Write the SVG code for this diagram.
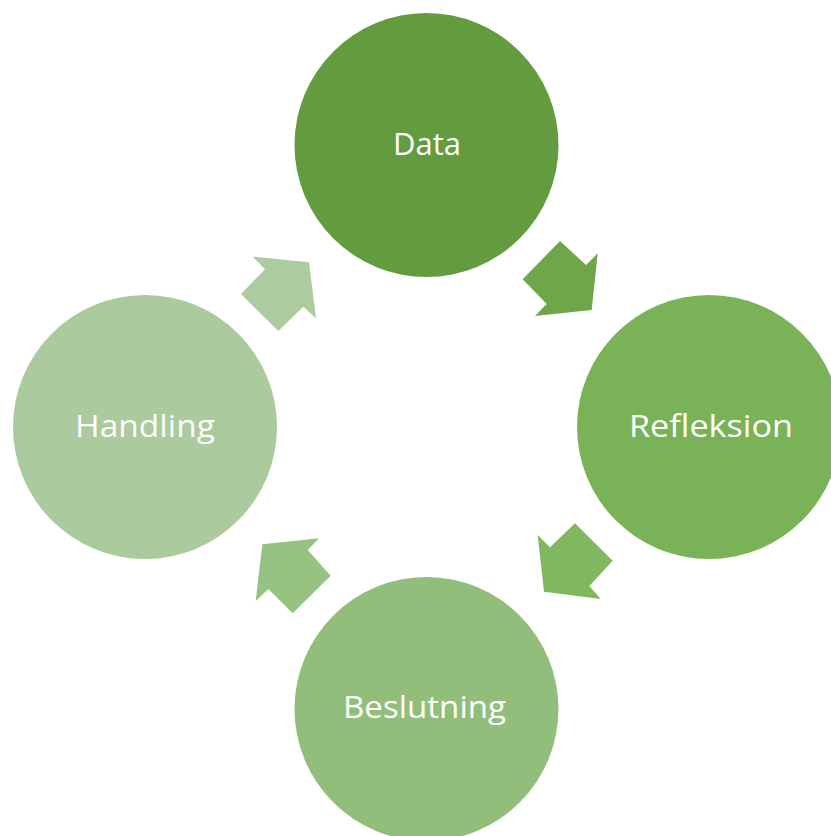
<svg xmlns="http://www.w3.org/2000/svg" width="831" height="836" viewBox="0 0 831 836">
<style>
.lbl{font-family:"Open Sans","Noto Sans","Liberation Sans",sans-serif;font-size:31px;fill:#ffffff;text-anchor:middle}
</style>
<rect width="831" height="836" fill="#ffffff"/>
<g id="connectors">
<polygon id="arrow-data-refleksion" points="560,241 586,265 597.7,253.3 591.7,310 535,316 546.7,304 522.7,279.3" fill="#6EA649"/>
<polygon id="arrow-refleksion-beslutning" points="575,523.3 612.7,560.7 589.3,586 600.7,599 544,591.7 537.7,535 550,547.3" fill="#81B75F"/>
<polygon id="arrow-beslutning-handling" points="262.3,544.3 319,538.3 307.7,550 330.7,575.7 292.7,613.3 268.3,589 255.7,601" fill="#96C282"/>
<polygon id="arrow-handling-data" points="252.7,256.7 309,262.3 316,318.3 303.3,306.7 278.3,331 241,294 265,269.3" fill="#ACCB9E"/>
</g>
<g id="node-data">
<circle cx="426.5" cy="145" r="132" fill="#639C3F"/>
<text class="lbl" x="427" y="155" textLength="68" lengthAdjust="spacingAndGlyphs">Data</text>
</g>
<g id="node-refleksion">
<circle cx="709" cy="427" r="132" fill="#7AB357"/>
<text class="lbl" x="711" y="437" textLength="164" lengthAdjust="spacingAndGlyphs">Refleksion</text>
</g>
<g id="node-beslutning">
<circle cx="426.5" cy="709" r="132" fill="#92BE7B"/>
<text class="lbl" x="424.5" y="718" textLength="163" lengthAdjust="spacingAndGlyphs">Beslutning</text>
</g>
<g id="node-handling">
<circle cx="145" cy="427" r="132" fill="#ABCA9D"/>
<text class="lbl" x="145" y="437" textLength="140" lengthAdjust="spacingAndGlyphs">Handling</text>
</g>
</svg>
